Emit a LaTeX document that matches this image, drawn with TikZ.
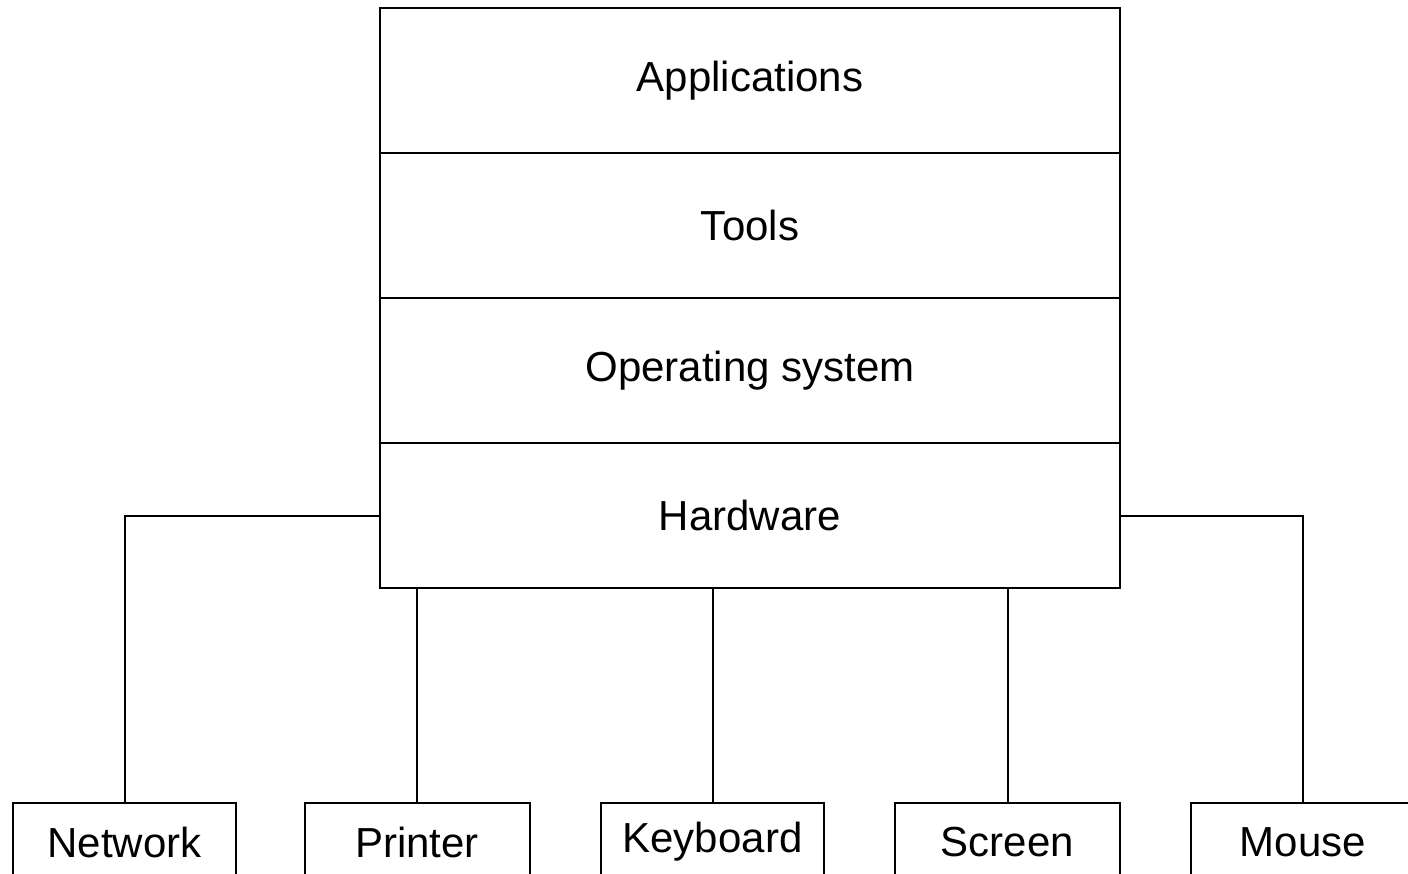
\documentclass[tikz,border=0pt]{standalone}
\usepackage{fontspec}
\setmainfont{Liberation Sans}
\begin{document}
\begin{tikzpicture}[x=1pt,y=-1pt,
  every node/.style={font=\fontsize{42}{50}\selectfont},
  layer/.style={draw,line width=2pt,minimum width=740pt,minimum height=145pt,inner sep=0pt,anchor=north},
  dev/.style={draw,line width=2pt,minimum height=78pt,inner sep=0pt,anchor=north},
  wire/.style={line width=2pt}]
\useasboundingbox (0,0) rectangle (1408,874);
\clip (0,0) rectangle (1408,874);
\node[layer] (app) at (750,7) {Applications};
\node[layer] (tools) at (750,152) {Tools};
\node[layer] (os) at (750,297) {Operating system};
\node[layer] (hw) at (750,442) {Hardware};
\node[dev,minimum width=223pt] (net) at (124.5,802) {Network};
\node[dev,minimum width=225pt] (prn) at (417,802) {Printer};
\node[dev,minimum width=223pt] (kb) at (712.5,802) {Keyboard};
\node[dev,minimum width=225pt] (scr) at (1007.5,802) {Screen};
\node[dev,minimum width=224pt] (mouse) at (1303,802) {Mouse};
\draw[wire] (hw.west) -| (net.north);
\draw[wire] (hw.east) -| (mouse.north);
\draw[wire] (hw.south -| prn.north) -- (prn.north);
\draw[wire] (hw.south -| kb.north) -- (kb.north);
\draw[wire] (hw.south -| scr.north) -- (scr.north);
\end{tikzpicture}
\end{document}
